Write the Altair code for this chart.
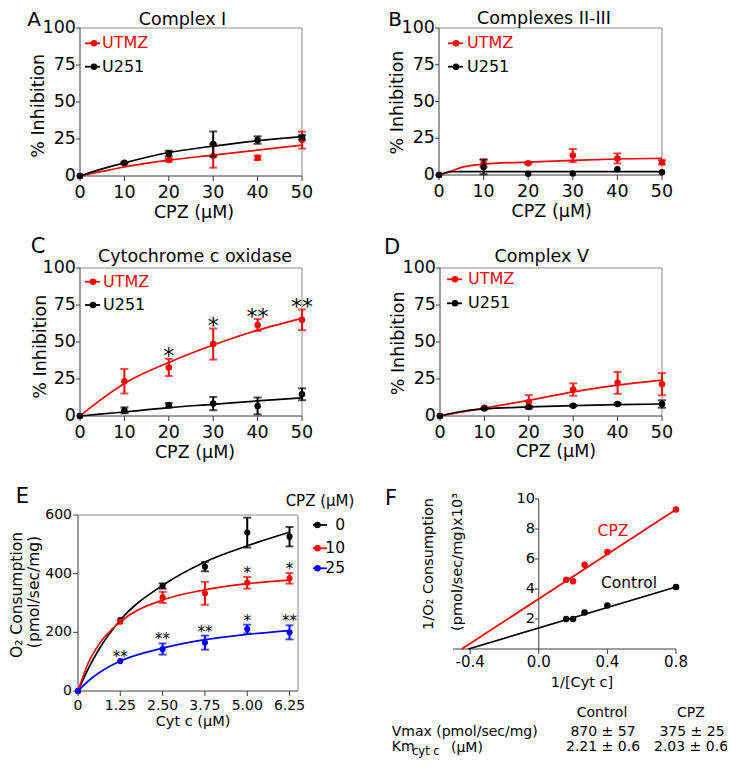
import altair as alt
import pandas as pd

FONT = "DejaVu Sans"
RED, BLACK, BLUE = "#ff0000", "#000000", "#0000ff"
AXIS_C, FRAME_C = "#3c3c3c", "#8a8a8a"
W, H = 719, 750

# ---------------- Panels A-D: % inhibition vs CPZ (uM) ----------------
CPZ_UM = [0, 10, 20, 30, 40, 50]
CPZ_FIT = [0, 5, 10, 20, 30, 40, 50]
CPZ_FIT_B = [0, 2.5, 5, 10, 20, 30, 40, 50]
INHIB_TICKS = [0, 25, 50, 75, 100]

A_UTMZ = [0, 8.5, 10.8, 13.6, 12.3, 24.3]
A_UTMZ_SEM = [0, 0, 1.0, 8.0, 1.5, 5.7]
A_U251 = [0, 8.9, 15.2, 21.6, 24.3, 26.1]
A_U251_SEM = [0, 0.6, 1.9, 8.5, 2.5, 1.5]
A_UTMZ_FIT = [0, 3.1, 6.1, 10.7, 14.1, 17.5, 20.9]
A_U251_FIT = [0, 4.8, 8.9, 15.9, 20.2, 23.9, 26.6]

B_UTMZ = [0, 8.0, 8.0, 13.2, 11.3, 8.6]
B_UTMZ_SEM = [0, 2.5, 0.5, 4.5, 3.4, 1.5]
B_U251 = [0, 5.5, 0.9, 1.1, 3.9, 1.8]
B_U251_SEM = [0, 5.0, 0, 0, 0, 0]
B_UTMZ_FIT = [0, 2.3, 5.2, 7.3, 8.8, 10.0, 10.9, 11.3]
B_U251_FIT = [0, 2.2, 2.3, 2.3, 2.3, 2.3, 2.3, 2.3]

C_UTMZ = [0, 23.5, 32.8, 48.6, 61.5, 65.0]
C_UTMZ_SEM = [0, 8.3, 5.8, 10.5, 4.0, 7.0]
C_U251 = [0, 3.8, 7.2, 8.4, 6.8, 14.7]
C_U251_SEM = [0, 2.0, 1.5, 4.5, 5.7, 4.0]
C_UTMZ_FIT = [0, 11.7, 22.0, 36.2, 48.0, 58.0, 66.0]
C_U251_FIT = [0, 1.4, 2.7, 5.7, 7.9, 10.2, 12.2]
C_STAR_IDX = [2, 3, 4, 5]
C_STARS = ["*", "*", "**", "**"]

D_UTMZ = [0, 5.5, 9.5, 17.9, 22.4, 21.5]
D_UTMZ_SEM = [0, 0, 4.6, 4.2, 7.4, 7.5]
D_U251 = [0, 5.0, 6.1, 7.0, 8.1, 8.1]
D_U251_SEM = [0, 0.5, 0.5, 0.5, 0.5, 2.5]
D_UTMZ_FIT = [0, 2.7, 5.4, 10.6, 16.3, 20.8, 24.2]
D_U251_FIT = [0, 3.2, 4.8, 6.1, 7.0, 7.7, 8.1]

# ---------------- Panel E: O2 consumption vs Cyt c ----------------
CYTC_UM = [0, 1.25, 2.5, 3.75, 5, 6.25]
CYTC_FIT = [0, 0.3125, 0.625, 1.25, 2.5, 3.75, 5, 6.25]
E_Y_TICKS = [0, 200, 400, 600]
E_CPZ0 = [0, 242, 358, 424, 540, 526]
E_CPZ0_SEM = [0, 0, 9, 16, 51, 33]
E_CPZ10 = [0, 236, 319, 333, 369, 384]
E_CPZ10_SEM = [0, 0, 19, 39, 20, 18]
E_CPZ25 = [0, 102, 143, 165, 211, 200]
E_CPZ25_SEM = [0, 0, 19, 24, 15, 24]
E_CPZ0_FIT = [0, 78, 143, 242, 360, 440, 495, 541]
E_CPZ10_FIT = [0, 98, 160, 236, 310, 345, 366, 378]
E_CPZ25_FIT = [0, 35, 62, 102, 146, 175, 193, 206]
E_RED_STAR_IDX = [4, 5]
E_RED_STARS = ["*", "*"]
E_BLUE_STAR_IDX = [1, 2, 3, 4, 5]
E_BLUE_STARS = ["**", "**", "**", "*", "**"]
E_LEGEND = ["0", "10", "25"]

# ---------------- Panel F: Lineweaver-Burk ----------------
F_X_TICKS = [-0.4, 0.0, 0.4, 0.8]
F_Y_TICKS = [2, 4, 6, 8, 10]
INV_CYTC = [0.16, 0.2, 0.267, 0.4, 0.8]
F_CONTROL = [2.0, 2.0, 2.43, 2.9, 4.13]
F_CPZ = [4.62, 4.51, 5.62, 6.47, 9.3]
F_CONTROL_LINE_X = [-0.41, 0.8]
F_CONTROL_LINE = [0, 4.13]
F_CPZ_LINE_X = [-0.449, 0.8]
F_CPZ_LINE = [0, 9.3]
TABLE_COLS = ["Control", "CPZ"]
VMAX = ["870 ± 57", "375 ± 25"]
KM = ["2.21 ± 0.6", "2.03 ± 0.6"]

one = pd.DataFrame({"k": [0]})


def label(text, x, y, size, color=BLACK, align="center", baseline="middle", angle=None):
    kw = dict(text=text, font=FONT, fontSize=size, color=color, align=align, baseline=baseline)
    if angle is not None:
        kw["angle"] = angle
    return alt.Chart(one).mark_text(**kw).encode(x=alt.value(x), y=alt.value(y))


def manual_axes(xsc, ysc, xdom, ydom, ax_y, ax_x, y_axis_at,
                xvals, xlabels, yvals, ylabels, xsize, ysize,
                xtick=5, ytick=4, xpad=3, ypad=0):
    """Axis lines, ticks and labels drawn through the panel's own scales."""
    layers = []
    dom_x = pd.DataFrame({"a": [xdom[0]], "b": [xdom[1]], "c": [ydom[0]]})
    layers.append(alt.Chart(dom_x).mark_rule(color=AXIS_C, strokeWidth=1).encode(
        x=alt.X("a:Q", scale=xsc, axis=None), x2="b:Q", y=alt.Y("c:Q", scale=ysc, axis=None)))
    dom_y = pd.DataFrame({"a": [y_axis_at], "c": [ydom[0]], "d": [ydom[1]]})
    layers.append(alt.Chart(dom_y).mark_rule(color=AXIS_C, strokeWidth=1).encode(
        x=alt.X("a:Q", scale=xsc, axis=None), y=alt.Y("c:Q", scale=ysc, axis=None), y2="d:Q"))
    xt = pd.DataFrame({"v": xvals, "t": xlabels})
    layers.append(alt.Chart(xt).mark_rule(color=AXIS_C, strokeWidth=1).encode(
        x=alt.X("v:Q", scale=xsc, axis=None), y=alt.value(ax_y), y2=alt.value(ax_y + xtick)))
    layers.append(alt.Chart(xt).mark_text(font=FONT, fontSize=xsize, baseline="top", align="center",
                                          color=BLACK).encode(
        x=alt.X("v:Q", scale=xsc, axis=None), y=alt.value(ax_y + xtick + xpad), text="t:N"))
    yt = pd.DataFrame({"v": yvals, "t": ylabels})
    layers.append(alt.Chart(yt).mark_rule(color=AXIS_C, strokeWidth=1).encode(
        y=alt.Y("v:Q", scale=ysc, axis=None), x=alt.value(ax_x - ytick), x2=alt.value(ax_x)))
    layers.append(alt.Chart(yt).mark_text(font=FONT, fontSize=ysize, baseline="middle", align="right",
                                          color=BLACK).encode(
        y=alt.Y("v:Q", scale=ysc, axis=None), x=alt.value(ax_x - ytick - ypad), text="t:N"))
    return layers


def frame(xsc, ysc, dx, dy):
    df = pd.DataFrame({"x0": [dx[0]], "x1": [dx[1]], "y0": [dy[0]], "y1": [dy[1]]})
    base = alt.Chart(df).mark_rule(color=FRAME_C, strokeWidth=1)
    top = base.encode(x=alt.X("x0:Q", scale=xsc, axis=None), x2="x1:Q",
                      y=alt.Y("y1:Q", scale=ysc, axis=None))
    right = base.encode(x=alt.X("x1:Q", scale=xsc, axis=None),
                        y=alt.Y("y0:Q", scale=ysc, axis=None), y2="y1:Q")
    return [top, right]


def series(xv, mean, sem, fx, fy, color, xsc, ysc, size=42):
    pts = pd.DataFrame({"x": xv, "m": mean,
                        "lo": [a - b for a, b in zip(mean, sem)],
                        "hi": [a + b for a, b in zip(mean, sem)],
                        "s": sem})
    err = pts[pts["s"] > 0]
    fit = pd.DataFrame({"x": fx, "m": fy})
    X = alt.X("x:Q", scale=xsc, axis=None)
    line = alt.Chart(fit).mark_line(color=color, strokeWidth=1.7, interpolate="monotone").encode(
        x=X, y=alt.Y("m:Q", scale=ysc, axis=None))
    bar = alt.Chart(err).mark_rule(color=color, strokeWidth=2).encode(
        x=X, y=alt.Y("lo:Q", scale=ysc, axis=None), y2="hi:Q")
    cap_lo = alt.Chart(err).mark_tick(color=color, orient="horizontal", size=8, thickness=2).encode(
        x=X, y=alt.Y("lo:Q", scale=ysc, axis=None))
    cap_hi = alt.Chart(err).mark_tick(color=color, orient="horizontal", size=8, thickness=2).encode(
        x=X, y=alt.Y("hi:Q", scale=ysc, axis=None))
    dots = alt.Chart(pts).mark_circle(color=color, size=size, opacity=1).encode(
        x=X, y=alt.Y("m:Q", scale=ysc, axis=None))
    return [line, bar, cap_lo, cap_hi, dots]


def stars(xv, mean, sem, idx, marks, xsc, ysc, size, dy):
    df = pd.DataFrame({"x": [xv[i] for i in idx],
                       "y": [mean[i] + sem[i] for i in idx],
                       "s": marks})
    return alt.Chart(df).mark_text(font=FONT, fontSize=size, baseline="alphabetic", dy=dy,
                                   color=BLACK).encode(
        x=alt.X("x:Q", scale=xsc, axis=None), y=alt.Y("y:Q", scale=ysc, axis=None), text="s:N")


def legend_item(x1, x2, xp, y, color, text, xt, size, text_color=None, align="left"):
    return [
        alt.Chart(one).mark_rule(color=color, strokeWidth=1.8).encode(
            x=alt.value(x1), x2=alt.value(x2), y=alt.value(y)),
        alt.Chart(one).mark_circle(color=color, size=42, opacity=1).encode(
            x=alt.value(xp), y=alt.value(y)),
        label(text, xt, y, size, color=text_color or color, align=align),
    ]


def inhibition_panel(xr, yr, utmz, utmz_sem, u251, u251_sem, fit_x, utmz_fit, u251_fit,
                     star_idx=None, star_marks=None):
    xsc = alt.Scale(domain=[0, 50], range=xr, nice=False, zero=False)
    ysc = alt.Scale(domain=[0, 100], range=yr, nice=False, zero=False)
    layers = frame(xsc, ysc, [0, 50], [0, 100])
    layers += manual_axes(xsc, ysc, [0, 50], [0, 100], yr[0], xr[0], 0,
                          CPZ_UM, [str(v) for v in CPZ_UM],
                          INHIB_TICKS, [str(v) for v in INHIB_TICKS], 17.5, 17.5,
                          xtick=5, ytick=4, xpad=3, ypad=0)
    layers += series(CPZ_UM, utmz, utmz_sem, fit_x, utmz_fit, RED, xsc, ysc)
    layers += series(CPZ_UM, u251, u251_sem, fit_x, u251_fit, BLACK, xsc, ysc)
    if star_idx:
        layers.append(stars(CPZ_UM, utmz, utmz_sem, star_idx, star_marks, xsc, ysc, 22, 4.5))
    return alt.layer(*layers)


panel_a = inhibition_panel([72, 294], [168, 20], A_UTMZ, A_UTMZ_SEM, A_U251, A_U251_SEM,
                           CPZ_FIT, A_UTMZ_FIT, A_U251_FIT)
panel_b = inhibition_panel([431, 654], [167, 20], B_UTMZ, B_UTMZ_SEM, B_U251, B_U251_SEM,
                           CPZ_FIT_B, B_UTMZ_FIT, B_U251_FIT)
panel_c = inhibition_panel([72, 294], [408, 260], C_UTMZ, C_UTMZ_SEM, C_U251, C_U251_SEM,
                           CPZ_FIT, C_UTMZ_FIT, C_U251_FIT, C_STAR_IDX, C_STARS)
panel_d = inhibition_panel([432, 654], [408, 260], D_UTMZ, D_UTMZ_SEM, D_U251, D_U251_SEM,
                           CPZ_FIT, D_UTMZ_FIT, D_U251_FIT)

# Panel E
exs = alt.Scale(domain=[0, 6.5], range=[70, 290], nice=False, zero=False)
eys = alt.Scale(domain=[0, 600], range=[683, 507], nice=False, zero=False)
e_layers = frame(exs, eys, [0, 6.5], [0, 600])
e_layers += manual_axes(exs, eys, [0, 6.5], [0, 600], 683, 70, 0,
                        CYTC_UM, ["0" if v == 0 else f"{v:.2f}" for v in CYTC_UM],
                        E_Y_TICKS, [str(v) for v in E_Y_TICKS], 14, 14,
                        xtick=5, ytick=5, xpad=3, ypad=1)
e_layers += series(CYTC_UM, E_CPZ0, E_CPZ0_SEM, CYTC_FIT, E_CPZ0_FIT, BLACK, exs, eys, 38)
e_layers += series(CYTC_UM, E_CPZ10, E_CPZ10_SEM, CYTC_FIT, E_CPZ10_FIT, RED, exs, eys, 38)
e_layers += series(CYTC_UM, E_CPZ25, E_CPZ25_SEM, CYTC_FIT, E_CPZ25_FIT, BLUE, exs, eys, 38)
e_layers.append(stars(CYTC_UM, E_CPZ10, E_CPZ10_SEM, E_RED_STAR_IDX, E_RED_STARS, exs, eys, 15, 1))
e_layers.append(stars(CYTC_UM, E_CPZ25, E_CPZ25_SEM, E_BLUE_STAR_IDX, E_BLUE_STARS, exs, eys, 15, 1))
panel_e = alt.layer(*e_layers)

# Panel F
fxs = alt.Scale(domain=[-0.5, 0.8], range=[445, 668], nice=False, zero=False)
fys = alt.Scale(domain=[0, 10], range=[641, 491], nice=False, zero=False)


def lb_layers(lx, ly, px, py, color):
    line_df = pd.DataFrame({"x": lx, "y": ly})
    pt_df = pd.DataFrame({"x": px, "y": py})
    ln = alt.Chart(line_df).mark_line(color=color, strokeWidth=1.7).encode(
        x=alt.X("x:Q", scale=fxs, axis=None), y=alt.Y("y:Q", scale=fys, axis=None))
    pt = alt.Chart(pt_df).mark_circle(color=color, size=42, opacity=1).encode(
        x=alt.X("x:Q", scale=fxs, axis=None), y=alt.Y("y:Q", scale=fys, axis=None))
    return [ln, pt]


f_layers = manual_axes(fxs, fys, [-0.5, 0.8], [0, 10], 641, 531, 0,
                       F_X_TICKS, [f"{v:.1f}" for v in F_X_TICKS],
                       F_Y_TICKS, [str(v) for v in F_Y_TICKS], 15, 14.5,
                       xtick=5, ytick=4, xpad=1, ypad=0)
f_layers += lb_layers(F_CONTROL_LINE_X, F_CONTROL_LINE, INV_CYTC, F_CONTROL, BLACK)
f_layers += lb_layers(F_CPZ_LINE_X, F_CPZ_LINE, INV_CYTC, F_CPZ, RED)
panel_f = alt.layer(*f_layers)

# ---------------- text / legends ----------------
texts = []
texts += [label("A", 26, 2, 20, baseline="top"), label("B", 387, 2, 20, baseline="top"),
          label("C", 30, 245, 21, baseline="alphabetic"), label("D", 384, 246, 21, baseline="alphabetic"),
          label("E", 14.5, 495, 21, baseline="alphabetic"), label("F", 383, 497, 21, baseline="alphabetic")]
texts += [label("Complex I", 174.5, 12.3, 17.5), label("Complexes II-III", 536, 10.5, 17.5),
          label("Cytochrome c oxidase", 187, 248.5, 17.5), label("Complex V", 533.7, 249, 17.5)]
for (yx, yy, xx, xy) in [(31.2, 97.8, 186, 205), (389.5, 94.5, 543.7, 203.7),
                         (32.8, 338.7, 187, 444.5), (391, 335.3, 548, 443.7)]:
    texts.append(label("% Inhibition", yx, yy, 17.5, angle=270))
    texts.append(label("CPZ (μM)", xx, xy, 17.5))
for (x1, x2, xp, xt, y1, y2) in [(77, 92, 86, 94, 35.3, 58.7), (440, 455, 448, 459, 35.3, 58.7),
                                 (77, 92, 85, 95, 273.7, 297), (439, 454, 447, 460, 271.3, 295.3)]:
    texts += legend_item(x1, x2, xp, y1, RED, "UTMZ", xt, 16)
    texts += legend_item(x1, x2, xp, y2, BLACK, "U251", xt, 16)
texts.append(label("O₂ Consumption", 8.5, 587, 15.5, angle=270))
texts.append(label("(pmol/sec/mg)", 26, 584, 15.5, angle=270))
texts.append(label("Cyt c (μM)", 185, 714, 14.5))
texts.append(label("CPZ (μM)", 312, 493, 15))
for y, color, name in zip([517, 540.3, 560.3], [BLACK, RED, BLUE], E_LEGEND):
    texts += legend_item(305, 319, 309.5, y, color, name, 337, 15.5, text_color=BLACK, align="right")
texts.append(label("1/O₂ Consumption", 421, 556, 14.5, angle=270))
texts.append(label("(pmol/sec/mg)x10³", 450, 554, 14.5, angle=270))
texts.append(label("1/[Cyt c]", 574, 675, 14.5))
texts.append(label("CPZ", 605, 523, 15.5, color=RED))
texts.append(label("Control", 621, 575, 15.5))
texts.append(label(TABLE_COLS[0], 594, 704.8, 14))
texts.append(label(TABLE_COLS[1], 683, 704.8, 14))
texts.append(label("Vmax (pmol/sec/mg)", 383.7, 724, 14, align="left"))
texts.append(label(VMAX[0], 595, 724, 14))
texts.append(label(VMAX[1], 684, 724, 14))
texts.append(label("Km", 383.7, 738.5, 14, align="left"))
texts.append(label("cyt c", 404, 744, 11.5, align="left"))
texts.append(label("(μM)", 443, 739.5, 14, align="left"))
texts.append(label(KM[0], 595, 739, 14))
texts.append(label(KM[1], 683, 739, 14))

chart = alt.layer(panel_a, panel_b, panel_c, panel_d, panel_e, panel_f, *texts).properties(
    width=W, height=H, padding=0, autosize=alt.AutoSizeParams(type="none")
).resolve_scale(x="independent", y="independent").configure_view(stroke=None)

chart.save("out.html", embed_options={"renderer": "svg", "actions": False})
